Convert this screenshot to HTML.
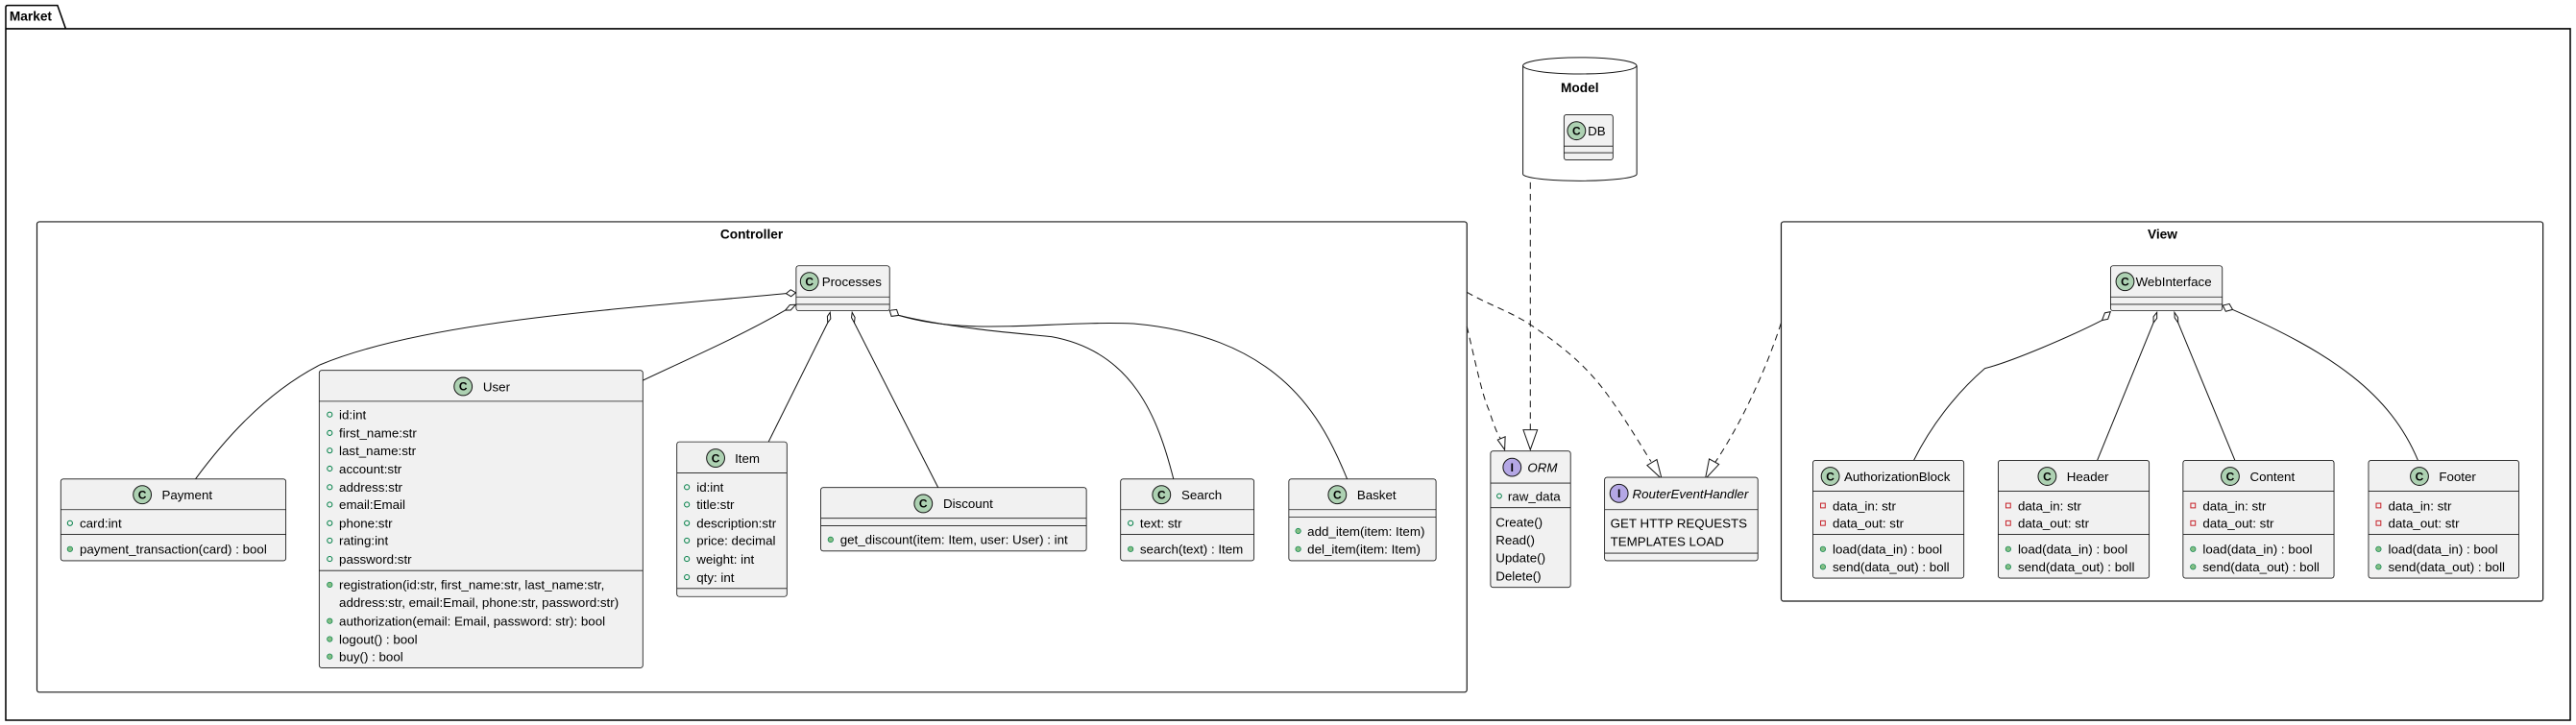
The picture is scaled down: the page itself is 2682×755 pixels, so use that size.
<!DOCTYPE html>
<html><head><meta charset="utf-8">
<style>
html,body{margin:0;padding:0;background:#fff;}
svg{display:block;}
text{font-family:"Liberation Sans",sans-serif;fill:#000;}
.t{font-size:7.8px;}
.b{font-weight:bold;font-size:8px;}
.it{font-style:italic;font-size:7.8px;}
.box{fill:#F1F1F1;stroke:#181818;stroke-width:0.5;}
.div{stroke:#181818;stroke-width:0.5;}
.ci{fill:#ADD1B2;stroke:#181818;stroke-width:0.6;}
.ii{fill:#B4A7E5;stroke:#181818;stroke-width:0.6;}
.ic{font-weight:bold;font-size:7px;text-anchor:middle;}
.ln{fill:none;stroke:#181818;stroke-width:0.6;}
.dl{fill:none;stroke:#181818;stroke-width:0.6;stroke-dasharray:4,3;}
.dm{fill:#fff;stroke:#181818;stroke-width:0.6;}
.pa{fill:none;stroke:#038048;stroke-width:0.6;}
.pm{fill:#84BE84;stroke:#038048;stroke-width:0.4;}
.pr{fill:none;stroke:#C82930;stroke-width:0.6;}
.fr{fill:none;stroke:#000;stroke-width:0.9;}
</style></head>
<body>
<svg width="2682" height="755" viewBox="0 0 1568 441.4" preserveAspectRatio="none" xmlns="http://www.w3.org/2000/svg">
<rect x="0" y="0" width="1568" height="441.4" fill="#fff"/>

<!-- Market frame -->
<path class="fr" d="M3.5,17.5 L3.5,4.5 Q3.5,3.3 4.7,3.3 L35,3.3 L40,17.5 M3.5,17.5 L1564.5,17.5 L1564.5,438.5 L3.5,438.5 Z"/>
<text x="5.8" y="12.7" class="b">Market</text>

<!-- Model cylinder -->
<path d="M927,40 L927,106 A34.6,4.1 0 0 0 996.3,106 L996.3,40" fill="#fff" stroke="#181818" stroke-width="0.6"/>
<ellipse cx="961.6" cy="40" rx="34.6" ry="5" fill="#fff" stroke="#181818" stroke-width="0.6"/>
<text x="961.6" y="56" class="b" text-anchor="middle">Model</text>
<rect class="box" x="952" y="69.8" width="29.8" height="27.6" rx="1.5"/>
<line class="div" x1="952" y1="89" x2="981.8" y2="89"/><line class="div" x1="952" y1="93" x2="981.8" y2="93"/>
<circle class="ci" cx="959.6" cy="79.6" r="5.5"/><text x="959.6" y="82.1" class="ic">C</text>
<text x="966.5" y="82.5" class="t">DB</text>

<!-- Controller frame -->
<rect x="22.5" y="135" width="870.4" height="286.4" rx="1.5" fill="none" stroke="#181818" stroke-width="0.7"/>
<text x="457.5" y="145.2" class="b" text-anchor="middle">Controller</text>

<!-- View frame -->
<rect x="1084.2" y="135" width="463.7" height="231" rx="1.5" fill="none" stroke="#181818" stroke-width="0.7"/>
<text x="1316.3" y="145.2" class="b" text-anchor="middle">View</text>

<!-- Controller aggregations -->
<path class="ln" d="M478.5,178.7 C380,188 260,195 195,222 C160,240 135,270 119,291.6"/>
<path class="ln" d="M478,188.9 C450,205 420,218 391.3,231.6"/>
<path class="ln" d="M503.8,196.5 L467.8,269"/>
<path class="ln" d="M520,196.5 L571,296.8"/>
<path class="ln" d="M547,192 C580,200 620,203 640,205 C690,214 705,255 714.3,291.6"/>
<path class="ln" d="M547,192 C590,205 640,195 690,197 C780,205 805,255 820,291.6"/>
<path class="dm" d="M484.4,178.2 L481.3,176.4 L478.5,178.7 L481.5,180.5 Z"/>
<path class="dm" d="M484.3,185.5 L480.8,185.6 L478,188.9 L481.3,188.8 Z"/>
<path class="dm" d="M505.3,190.2 L503.6,192.6 L503.8,196.5 L505.6,194.1 Z"/>
<path class="dm" d="M518.7,190.2 L518.3,193.4 L520,196.5 L520.4,193.3 Z"/>
<path class="dm" d="M541.5,189 L542.6,192.6 L547,192 L545.8,188.5 Z"/>

<!-- Processes -->
<rect class="box" x="484.6" y="161.8" width="56.9" height="27.4" rx="1.5"/>
<line class="div" x1="484.6" y1="180.8" x2="541.5" y2="180.8"/><line class="div" x1="484.6" y1="185.3" x2="541.5" y2="185.3"/>
<circle class="ci" cx="492.7" cy="171.4" r="5.5"/><text x="492.7" y="173.9" class="ic">C</text>
<text x="500.3" y="174.2" class="t">Processes</text>

<!-- Payment -->
<rect class="box" x="37" y="291.6" width="137" height="49.8" rx="1.5"/>
<line class="div" x1="37" y1="310.3" x2="174" y2="310.3"/><line class="div" x1="37" y1="325.3" x2="174" y2="325.3"/>
<circle class="ci" cx="86.6" cy="301.2" r="5.5"/><text x="86.6" y="303.7" class="ic">C</text>
<text x="98.5" y="304" class="t">Payment</text>
<circle class="pa" cx="42.6" cy="318.5" r="1.5"/><text x="48.5" y="321.3" class="t">card:int</text>
<circle class="pm" cx="42.6" cy="334.3" r="1.6"/><text x="48.5" y="337.1" class="t">payment_transaction(card) : bool</text>

<!-- User -->
<rect class="box" x="194.3" y="225.5" width="197" height="181.1" rx="1.5"/>
<line class="div" x1="194.3" y1="244.3" x2="391.3" y2="244.3"/><line class="div" x1="194.3" y1="347.4" x2="391.3" y2="347.4"/>
<circle class="ci" cx="281.9" cy="235.3" r="5.5"/><text x="281.9" y="237.8" class="ic">C</text>
<text x="294" y="238.1" class="t">User</text>
<g>
<circle class="pa" cx="200.7" cy="252.4" r="1.5"/><text x="206.4" y="255.2" class="t">id:int</text>
<circle class="pa" cx="200.7" cy="263.6" r="1.5"/><text x="206.4" y="266.4" class="t">first_name:str</text>
<circle class="pa" cx="200.7" cy="274.3" r="1.5"/><text x="206.4" y="277.1" class="t">last_name:str</text>
<circle class="pa" cx="200.7" cy="285.3" r="1.5"/><text x="206.4" y="288.1" class="t">account:str</text>
<circle class="pa" cx="200.7" cy="296.6" r="1.5"/><text x="206.4" y="299.4" class="t">address:str</text>
<circle class="pa" cx="200.7" cy="307.2" r="1.5"/><text x="206.4" y="310" class="t">email:Email</text>
<circle class="pa" cx="200.7" cy="318.5" r="1.5"/><text x="206.4" y="321.3" class="t">phone:str</text>
<circle class="pa" cx="200.7" cy="329.1" r="1.5"/><text x="206.4" y="331.9" class="t">rating:int</text>
<circle class="pa" cx="200.7" cy="340.3" r="1.5"/><text x="206.4" y="343.1" class="t">password:str</text>
<circle class="pm" cx="200.7" cy="356" r="1.6"/><text x="206.4" y="358.8" class="t">registration(id:str, first_name:str, last_name:str,</text>
<text x="206.4" y="369.4" class="t">address:str, email:Email, phone:str, password:str)</text>
<circle class="pm" cx="200.7" cy="378.1" r="1.6"/><text x="206.4" y="380.9" class="t">authorization(email: Email, password: str): bool</text>
<circle class="pm" cx="200.7" cy="389.1" r="1.6"/><text x="206.4" y="391.9" class="t">logout() : bool</text>
<circle class="pm" cx="200.7" cy="399.7" r="1.6"/><text x="206.4" y="402.5" class="t">buy() : bool</text>
</g>

<!-- Item -->
<rect class="box" x="412" y="269" width="67" height="94.2" rx="1.5"/>
<line class="div" x1="412" y1="288" x2="479" y2="288"/><line class="div" x1="412" y1="358.3" x2="479" y2="358.3"/>
<circle class="ci" cx="435.6" cy="278.9" r="5.5"/><text x="435.6" y="281.4" class="ic">C</text>
<text x="447.3" y="281.7" class="t">Item</text>
<circle class="pa" cx="418.1" cy="296.6" r="1.5"/><text x="424" y="299.4" class="t">id:int</text>
<circle class="pa" cx="418.1" cy="307.2" r="1.5"/><text x="424" y="310" class="t">title:str</text>
<circle class="pa" cx="418.1" cy="318.5" r="1.5"/><text x="424" y="321.3" class="t">description:str</text>
<circle class="pa" cx="418.1" cy="329.1" r="1.5"/><text x="424" y="331.9" class="t">price: decimal</text>
<circle class="pa" cx="418.1" cy="340.3" r="1.5"/><text x="424" y="343.1" class="t">weight: int</text>
<circle class="pa" cx="418.1" cy="351.4" r="1.5"/><text x="424" y="354.2" class="t">qty: int</text>

<!-- Discount -->
<rect class="box" x="499.6" y="296.8" width="161.7" height="38.7" rx="1.5"/>
<line class="div" x1="499.6" y1="315.5" x2="661.3" y2="315.5"/><line class="div" x1="499.6" y1="320.1" x2="661.3" y2="320.1"/>
<circle class="ci" cx="562" cy="306.6" r="5.5"/><text x="562" y="309.1" class="ic">C</text>
<text x="574.1" y="309.4" class="t">Discount</text>
<circle class="pm" cx="505.6" cy="328.5" r="1.6"/><text x="511.4" y="331.3" class="t">get_discount(item: Item, user: User) : int</text>

<!-- Search -->
<rect class="box" x="682.1" y="291.6" width="81.2" height="49.8" rx="1.5"/>
<line class="div" x1="682.1" y1="310.3" x2="763.3" y2="310.3"/><line class="div" x1="682.1" y1="325.3" x2="763.3" y2="325.3"/>
<circle class="ci" cx="707" cy="301.2" r="5.5"/><text x="707" y="303.7" class="ic">C</text>
<text x="719.1" y="304" class="t">Search</text>
<circle class="pa" cx="688.2" cy="318.5" r="1.5"/><text x="693.9" y="321.3" class="t">text: str</text>
<circle class="pm" cx="688.2" cy="334.3" r="1.6"/><text x="693.9" y="337.1" class="t">search(text) : Item</text>

<!-- Basket -->
<rect class="box" x="784.5" y="291.6" width="89.6" height="49.8" rx="1.5"/>
<line class="div" x1="784.5" y1="310.3" x2="874.1" y2="310.3"/><line class="div" x1="784.5" y1="314.9" x2="874.1" y2="314.9"/>
<circle class="ci" cx="814" cy="301.2" r="5.5"/><text x="814" y="303.7" class="ic">C</text>
<text x="826" y="304" class="t">Basket</text>
<circle class="pm" cx="790.2" cy="323.3" r="1.6"/><text x="795.8" y="326.1" class="t">add_item(item: Item)</text>
<circle class="pm" cx="790.2" cy="334.3" r="1.6"/><text x="795.8" y="337.1" class="t">del_item(item: Item)</text>

<!-- Dashed realizations -->
<path class="dl" d="M892.9,198.8 C898,220 902,240 906.2,249.4 C909,258 912,266 913.5,267"/>
<path class="dm" d="M911.6,267.8 L915.9,273.8 L916.2,265.9 Z"/>
<path class="dl" d="M931.5,111 L931.5,261.7"/>
<path class="dm" d="M927.2,261.7 L931.5,273.8 L935.8,261.7 Z"/>
<path class="dl" d="M892.9,177.9 C905,185 920,190 931.4,197.6 C950,210 965,222 978,239.7 C990,256 998,270 1005,281"/>
<path class="dm" d="M1002.6,283.3 L1011.5,291.6 L1008.5,279.8 Z"/>
<path class="dl" d="M1084.1,196.8 C1075,225 1060,258 1043,283"/>
<path class="dm" d="M1040.4,279.4 L1038,291.6 L1046.3,282.7 Z"/>

<!-- ORM -->
<rect class="box" x="907.3" y="274.6" width="48.7" height="83" rx="1.5"/>
<line class="div" x1="907.3" y1="294.1" x2="956" y2="294.1"/><line class="div" x1="907.3" y1="309.1" x2="956" y2="309.1"/>
<circle class="ii" cx="920.4" cy="284.5" r="5.5"/><text x="920.4" y="287" class="ic">I</text>
<text x="929.8" y="287.3" class="it">ORM</text>
<circle class="pa" cx="912.6" cy="302" r="1.4"/><text x="917.8" y="304.8" class="t">raw_data</text>
<text x="910.4" y="320.8" class="t">Create()</text>
<text x="910.4" y="331.5" class="t">Read()</text>
<text x="910.4" y="342.3" class="t">Update()</text>
<text x="910.4" y="353.3" class="t">Delete()</text>

<!-- RouterEventHandler -->
<rect class="box" x="976.7" y="290.6" width="93.3" height="50.8" rx="1.5"/>
<line class="div" x1="976.7" y1="310.3" x2="1070" y2="310.3"/><line class="div" x1="976.7" y1="336.8" x2="1070" y2="336.8"/>
<circle class="ii" cx="985.5" cy="300.4" r="5.5"/><text x="985.5" y="302.9" class="ic">I</text>
<text x="993.6" y="303.3" class="it">RouterEventHandler</text>
<text x="980.2" y="321.3" class="t">GET HTTP REQUESTS</text>
<text x="980.2" y="332.3" class="t">TEMPLATES LOAD</text>

<!-- WebInterface -->
<rect class="box" x="1284.7" y="161.8" width="68" height="27.4" rx="1.5"/>
<line class="div" x1="1284.7" y1="180.8" x2="1352.7" y2="180.8"/><line class="div" x1="1284.7" y1="185.3" x2="1352.7" y2="185.3"/>
<circle class="ci" cx="1293.5" cy="171.4" r="5.5"/><text x="1293.5" y="173.9" class="ic">C</text>
<text x="1300" y="174.2" class="t">WebInterface</text>

<!-- View aggregations -->
<path class="ln" d="M1279.5,195 C1260,205 1225,220 1208.2,224.3 C1190,240 1175,260 1164.9,280.3"/>
<path class="ln" d="M1310.8,196.5 L1276.6,280.3"/>
<path class="ln" d="M1325.8,196.5 L1360.4,280.3"/>
<path class="ln" d="M1359,188.5 C1420,215 1455,240 1471.8,280.3"/>
<path class="dm" d="M1284.6,189.8 L1281.2,190.5 L1279.5,195 L1283.1,194.3 Z"/>
<path class="dm" d="M1312.9,190.2 L1310.8,192.8 L1310.8,196.5 L1312.9,193.8 Z"/>
<path class="dm" d="M1323.6,190.2 L1323.7,193.4 L1325.8,196.5 L1325.7,193.3 Z"/>
<path class="dm" d="M1353,186 L1354.8,189.6 L1359,188.5 L1357,185 Z"/>

<!-- View classes -->
<g>
<rect class="box" x="1103.5" y="280.3" width="91.9" height="71.7" rx="1.5"/>
<line class="div" x1="1103.5" y1="299" x2="1195.4" y2="299"/><line class="div" x1="1103.5" y1="325.3" x2="1195.4" y2="325.3"/>
<circle class="ci" cx="1114.1" cy="290" r="5.5"/><text x="1114.1" y="292.5" class="ic">C</text>
<text x="1122.5" y="292.8" class="t">AuthorizationBlock</text>
<rect class="pr" x="1108.2" y="306.4" width="2.8" height="2.8"/><text x="1115.5" y="310.6" class="t">data_in: str</text>
<rect class="pr" x="1108.2" y="317.1" width="2.8" height="2.8"/><text x="1115.5" y="321.3" class="t">data_out: str</text>
<circle class="pm" cx="1109.6" cy="334.3" r="1.6"/><text x="1115.5" y="337.1" class="t">load(data_in) : bool</text>
<circle class="pm" cx="1109.6" cy="345.1" r="1.6"/><text x="1115.5" y="347.9" class="t">send(data_out) : boll</text>
</g>
<g>
<rect class="box" x="1216.3" y="280.3" width="91.9" height="71.7" rx="1.5"/>
<line class="div" x1="1216.3" y1="299" x2="1308.2" y2="299"/><line class="div" x1="1216.3" y1="325.3" x2="1308.2" y2="325.3"/>
<circle class="ci" cx="1246.1" cy="290" r="5.5"/><text x="1246.1" y="292.5" class="ic">C</text>
<text x="1258" y="292.8" class="t">Header</text>
<rect class="pr" x="1221" y="306.4" width="2.8" height="2.8"/><text x="1228.3" y="310.6" class="t">data_in: str</text>
<rect class="pr" x="1221" y="317.1" width="2.8" height="2.8"/><text x="1228.3" y="321.3" class="t">data_out: str</text>
<circle class="pm" cx="1222.4" cy="334.3" r="1.6"/><text x="1228.3" y="337.1" class="t">load(data_in) : bool</text>
<circle class="pm" cx="1222.4" cy="345.1" r="1.6"/><text x="1228.3" y="347.9" class="t">send(data_out) : boll</text>
</g>
<g>
<rect class="box" x="1328.8" y="280.3" width="91.9" height="71.7" rx="1.5"/>
<line class="div" x1="1328.8" y1="299" x2="1420.7" y2="299"/><line class="div" x1="1328.8" y1="325.3" x2="1420.7" y2="325.3"/>
<circle class="ci" cx="1357.5" cy="290" r="5.5"/><text x="1357.5" y="292.5" class="ic">C</text>
<text x="1369.5" y="292.8" class="t">Content</text>
<rect class="pr" x="1333.5" y="306.4" width="2.8" height="2.8"/><text x="1340.8" y="310.6" class="t">data_in: str</text>
<rect class="pr" x="1333.5" y="317.1" width="2.8" height="2.8"/><text x="1340.8" y="321.3" class="t">data_out: str</text>
<circle class="pm" cx="1334.9" cy="334.3" r="1.6"/><text x="1340.8" y="337.1" class="t">load(data_in) : bool</text>
<circle class="pm" cx="1334.9" cy="345.1" r="1.6"/><text x="1340.8" y="347.9" class="t">send(data_out) : boll</text>
</g>
<g>
<rect class="box" x="1441.7" y="280.3" width="91.5" height="71.7" rx="1.5"/>
<line class="div" x1="1441.7" y1="299" x2="1533.2" y2="299"/><line class="div" x1="1441.7" y1="325.3" x2="1533.2" y2="325.3"/>
<circle class="ci" cx="1472.7" cy="290" r="5.5"/><text x="1472.7" y="292.5" class="ic">C</text>
<text x="1484.6" y="292.8" class="t">Footer</text>
<rect class="pr" x="1446.4" y="306.4" width="2.8" height="2.8"/><text x="1453.7" y="310.6" class="t">data_in: str</text>
<rect class="pr" x="1446.4" y="317.1" width="2.8" height="2.8"/><text x="1453.7" y="321.3" class="t">data_out: str</text>
<circle class="pm" cx="1447.8" cy="334.3" r="1.6"/><text x="1453.7" y="337.1" class="t">load(data_in) : bool</text>
<circle class="pm" cx="1447.8" cy="345.1" r="1.6"/><text x="1453.7" y="347.9" class="t">send(data_out) : boll</text>
</g>
</svg>
</body></html>
